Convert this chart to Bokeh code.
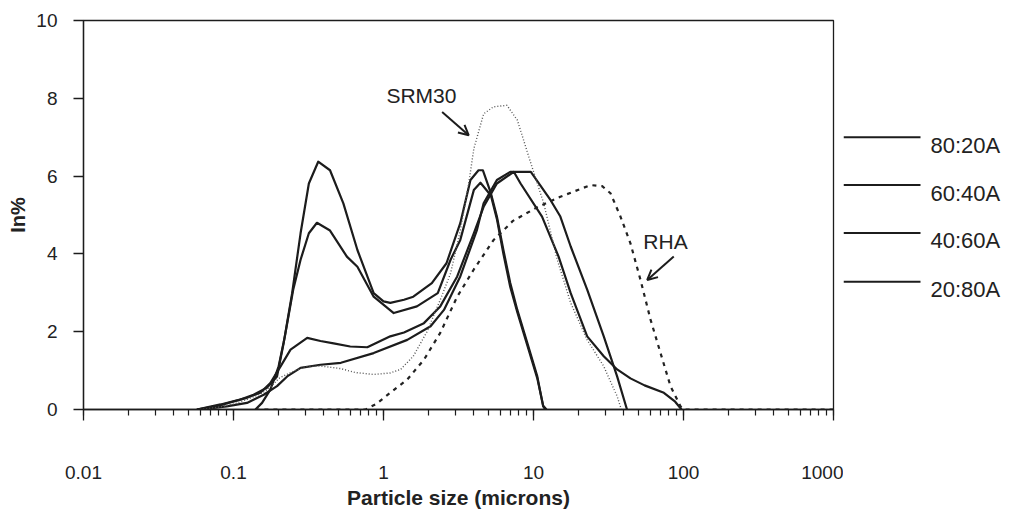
from bokeh.plotting import figure
from bokeh.layouts import row
from bokeh.models import (LogTicker, FixedTicker, CustomJSTickFormatter, Label,
                          Arrow, OpenHead, Range1d)
from bokeh.core.properties import value
from bokeh.embed import file_html
from bokeh.resources import INLINE

# ---------------- data ----------------
x_80_20 = [0.057, 0.08, 0.11, 0.136, 0.167, 0.195, 0.216, 0.246, 0.28, 0.318,
           0.367, 0.44, 0.54, 0.67, 0.86, 1.0, 1.11, 1.37, 1.58, 2.1,
           2.63, 3.25, 3.8, 4.3, 4.6, 5.2, 5.7, 6.3, 7.0, 7.8,
           9.1, 10.6, 11.6, 12.0]
y_80_20 = [0.0, 0.1, 0.25, 0.38, 0.56, 0.85, 1.71, 2.99, 4.53, 5.81,
           6.37, 6.15, 5.3, 4.1, 2.99, 2.78, 2.74, 2.82, 2.9, 3.25,
           3.76, 4.79, 5.9, 6.15, 6.15, 5.56, 4.96, 4.1, 3.25, 2.56,
           1.71, 0.85, 0.08, 0.0]

x_60_40 = [0.14, 0.155, 0.176, 0.2, 0.22, 0.25, 0.28, 0.318, 0.36, 0.44,
           0.57, 0.67, 0.86, 1.17, 1.67, 2.3, 2.8, 3.25, 4.0, 4.43,
           5.2, 5.7, 6.3, 7.0, 7.8, 9.1, 10.6, 11.6, 12.2]
y_60_40 = [0.0, 0.17, 0.51, 1.11, 1.88, 3.08, 3.85, 4.53, 4.8, 4.6,
           3.93, 3.67, 2.9, 2.48, 2.65, 2.99, 3.85, 4.36, 5.64, 5.83,
           5.5, 4.9, 4.0, 3.15, 2.5, 1.65, 0.8, 0.1, 0.0]

x_40_60 = [0.057, 0.082, 0.123, 0.151, 0.176, 0.206, 0.24, 0.31, 0.38, 0.465,
           0.6, 0.78, 1.11, 1.37, 1.86, 2.39, 3.1, 4.0, 4.65, 5.7,
           7.39, 8.2, 11.4, 14.7, 17.7, 22.8, 29.4, 36.1, 44.3, 55.0,
           74.0, 88.0, 97.0]
y_40_60 = [0.0, 0.13, 0.3, 0.43, 0.68, 1.11, 1.54, 1.84, 1.76, 1.7,
           1.62, 1.6, 1.88, 1.98, 2.22, 2.65, 3.42, 4.53, 5.21, 5.81,
           6.11, 5.81, 4.96, 3.93, 2.99, 1.88, 1.37, 1.03, 0.8, 0.62,
           0.43, 0.2, 0.0]

x_20_80 = [0.06, 0.09, 0.123, 0.159, 0.195, 0.228, 0.28, 0.38, 0.52, 0.86,
           1.44, 2.06, 2.53, 3.25, 4.2, 4.65, 5.7, 7.0, 9.6, 13.0,
           15.1, 17.7, 22.8, 29.4, 36.1, 42.0]
y_20_80 = [0.0, 0.08, 0.17, 0.38, 0.6, 0.85, 1.07, 1.15, 1.2, 1.45,
           1.79, 2.14, 2.56, 3.42, 4.62, 5.3, 5.9, 6.11, 6.11, 5.38,
           4.96, 4.19, 3.08, 1.88, 0.85, 0.0]

x_srm30 = [0.06, 0.08, 0.1, 0.123, 0.151, 0.176, 0.2, 0.24, 0.3, 0.38,
           0.52, 0.65, 0.86, 1.11, 1.3, 1.58, 1.95, 2.39, 2.8, 3.25,
           3.7, 4.0, 4.65, 5.4, 6.65, 7.8, 9.6, 11.7, 14.4, 17.7,
           22.8, 29.4, 36.1, 38.5]
y_srm30 = [0.0, 0.06, 0.14, 0.26, 0.4, 0.56, 0.8, 0.95, 1.1, 1.12,
           1.05, 0.95, 0.9, 0.94, 1.03, 1.37, 2.0, 2.82, 3.5, 4.6,
           5.81, 6.7, 7.6, 7.78, 7.82, 7.44, 6.33, 5.3, 3.85, 2.74,
           1.79, 1.11, 0.34, 0.0]

x_rha = [0.14, 0.76, 0.9, 1.11, 1.44, 1.86, 2.39, 3.1, 4.0, 5.4,
         7.3, 10.6, 15.1, 24.0, 28.7, 32.6, 38.0, 44.3, 51.7, 60.3,
         70.3, 81.9, 95.5, 100.0, 1000.0]
y_rha = [0.0, 0.0, 0.15, 0.43, 0.77, 1.28, 1.97, 2.9, 3.6, 4.35,
         4.85, 5.2, 5.47, 5.77, 5.74, 5.56, 4.96, 4.27, 3.33, 2.31,
         1.45, 0.6, 0.08, 0.0, 0.0]

y_major_ticks = [0, 2, 4, 6, 8, 10]
legend_names = ["80:20A", "60:40A", "40:60A", "20:80A"]

FONT = "Liberation Sans"
INK = "#1c1c1c"

p = figure(width=843, height=511, x_axis_type="log",
           x_range=Range1d(0.01, 1000), y_range=Range1d(0, 10),
           output_backend="svg", toolbar_location=None,
           min_border_left=83, min_border_right=10,
           min_border_top=20, min_border_bottom=101)

p.background_fill_color = "white"
p.border_fill_color = "white"
p.grid.visible = False
p.outline_line_color = INK
p.outline_line_width = 1.3

p.xaxis.ticker = LogTicker(desired_num_ticks=6, num_minor_ticks=10)
p.xaxis.formatter = CustomJSTickFormatter(
    code="return parseFloat(tick.toPrecision(6)).toString();")
p.yaxis.ticker = FixedTicker(ticks=y_major_ticks)

for ax in (p.xaxis[0], p.yaxis[0]):
    ax.axis_line_color = INK
    ax.axis_line_width = 1.3
    ax.major_tick_line_color = INK
    ax.major_tick_line_width = 1.3
    ax.minor_tick_line_color = INK
    ax.minor_tick_line_width = 1.2
    ax.major_tick_in = 0
    ax.minor_tick_in = 0
    ax.major_label_text_font = FONT
    ax.major_label_text_font_size = "19px"
    ax.major_label_text_color = "#222222"
    ax.axis_label_text_font = FONT
    ax.axis_label_text_font_size = "20px"
    ax.axis_label_text_font_style = "bold"
    ax.axis_label_text_color = "#222222"

p.xaxis.major_tick_out = 11
p.xaxis.minor_tick_out = 6
p.xaxis.major_label_standoff = 45
p.xaxis.axis_label = "Particle size (microns)"
p.xaxis.axis_label_text_font_size = "21px"
p.xaxis.axis_label_standoff = 4

p.yaxis.major_tick_out = 10
p.yaxis.minor_tick_line_color = None
p.yaxis.major_label_standoff = 16
p.yaxis.axis_label = "In%"
p.yaxis.axis_label_standoff = 4

# ---------------- curves ----------------
for xs, ys in [(x_80_20, y_80_20), (x_60_40, y_60_40),
               (x_40_60, y_40_60), (x_20_80, y_20_80)]:
    p.line(xs, ys, line_color=INK, line_width=2.2, line_join="round")

p.line(x_srm30, y_srm30, line_color="#555555", line_width=1.4,
       line_dash="1 2")
p.line(x_rha, y_rha, line_color="#222222", line_width=2.2, line_dash="4 5")

# ---------------- annotations ----------------
p.add_layout(Label(x=1.79, y=8.08, text="SRM30", text_font=FONT,
                   text_font_size="21px", text_color="#222222",
                   text_align="center", text_baseline="middle"))
p.add_layout(Arrow(x_start=2.46, y_start=7.65, x_end=3.70, y_end=7.05,
                   line_color=INK, line_width=2,
                   end=OpenHead(size=10, line_color=INK, line_width=2)))
p.add_layout(Label(x=75.9, y=4.33, text="RHA", text_font=FONT,
                   text_font_size="21px", text_color="#222222",
                   text_align="center", text_baseline="middle"))
p.add_layout(Arrow(x_start=86.1, y_start=3.93, x_end=57.3, y_end=3.33,
                   line_color=INK, line_width=2,
                   end=OpenHead(size=10, line_color=INK, line_width=2)))

# ---------------- legend (separate panel on the right) ----------------
# its frame is aligned with the main frame (pixel rows 20..410)
lg = figure(width=170, height=511, x_range=Range1d(0, 170),
            y_range=Range1d(410, 20), output_backend="svg",
            toolbar_location=None, min_border=0,
            x_axis_location=None, y_axis_location=None)
lg.outline_line_color = None
lg.grid.visible = False
lg.background_fill_color = "white"
lg.border_fill_color = "white"

row_line_y = [137, 185, 233, 282]
lg.segment(x0=[0] * 4, x1=[77] * 4, y0=row_line_y, y1=row_line_y,
           line_color=INK, line_width=2)
lg.text(x=[87] * 4, y=[v + 8 for v in row_line_y], text=legend_names,
        text_font=value(FONT), text_font_size="22px", text_color="#222222",
        text_baseline="middle", text_align="left")

layout = row(p, lg, spacing=0)
open("out.html", "w").write(file_html(layout, INLINE))
